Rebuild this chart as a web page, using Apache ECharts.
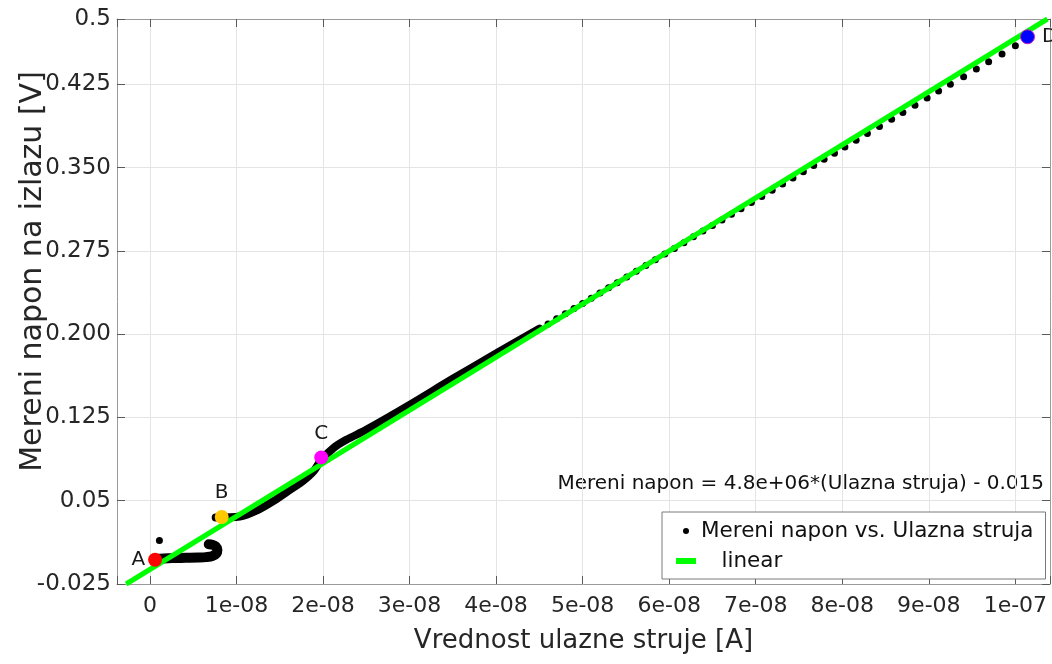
<!DOCTYPE html>
<html>
<head>
<meta charset="utf-8">
<script src="https://cdn.jsdelivr.net/npm/echarts@6/dist/echarts.min.js"></script>
<style>
html,body{margin:0;padding:0;background:#fff;}
#chart{width:1052px;height:664px;}
</style>
</head>
<body>
<div id="chart"></div>
<script>
// ---- tick labels ----
const xTickLabels = ['0','1e-08','2e-08','3e-08','4e-08','5e-08','6e-08','7e-08','8e-08','9e-08','1e-07'];
const yTickLabels = ['-0.025','0.05','0.125','0.200','0.275','0.350','0.425','0.5'];

// ---- measured data (x in nA, y in V) ----
// low cluster near point A (dense band)
const lowX = [0.6, 1.6, 2.6, 3.6, 4.6, 5.6, 6.5, 7.2, 7.7, 7.8, 7.6, 7.2, 6.8];
const lowY = [-0.0024, -0.0020, -0.0017, -0.0015, -0.0014, -0.0012, -0.0008, 0.0001, 0.0027, 0.0059, 0.0088, 0.0104, 0.0107];
// isolated outlier
const outlierX = [1.1];
const outlierY = [0.0142];
// dense band from B to ~45 nA
const denseX = [7.6, 10.4, 12.3, 14.3, 16.2, 17.7, 18.9, 19.8, 21.2, 22.7, 25.0, 30.0, 35.0, 40.0, 45.0];
const denseY = [0.0349, 0.0358, 0.0410, 0.0499, 0.0599, 0.0679, 0.0764, 0.0867, 0.0974, 0.1048, 0.1139, 0.1363, 0.1598, 0.1825, 0.2050];
// separated dots above ~45 nA
const sparseX = [46, 47, 48, 49, 50, 51, 52, 53, 54, 55.1, 56.2, 57.3, 58.4, 59.5, 60.6, 61.7, 62.8, 63.9, 65.0, 66.1, 67.2, 68.3, 69.5, 70.7, 71.9, 73.1, 74.3, 75.5, 76.7, 77.9, 79.1, 80.3, 81.6, 82.9, 84.3, 85.7, 87.0, 88.4, 89.8, 91.13, 92.49, 94.02, 95.49, 96.91, 98.46, 100.0, 101.47];
const sparseY = [0.2092, 0.2138, 0.2184, 0.2230, 0.2276, 0.2323, 0.2370, 0.2417, 0.2463, 0.2515, 0.2567, 0.2618, 0.2670, 0.2721, 0.2772, 0.2824, 0.2876, 0.2928, 0.2978, 0.3029, 0.3079, 0.3130, 0.3185, 0.3240, 0.3295, 0.3351, 0.3406, 0.3463, 0.3518, 0.3574, 0.3630, 0.3686, 0.3746, 0.3806, 0.3871, 0.3936, 0.3996, 0.4061, 0.4127, 0.4190, 0.4250, 0.4319, 0.4388, 0.4454, 0.4523, 0.4598, 0.4667];

// linear fit line (end points as drawn)
const linX = [-2.74, 103.7];
const linY = [-0.025, 0.4838];

// highlighted points
const markerNames = ['A', 'B', 'C', 'D'];
const markerX = [0.6, 8.3, 19.8, 101.4];
const markerY = [-0.0031, 0.0353, 0.0890, 0.4678];
const markerColors = ['#ff0000', '#ffc800', '#ff00ff', '#0000ff'];
const markerLabelPos = ['left', 'top', 'top', 'right'];

const fitText = 'Mereni napon = 4.8e+06*(Ulazna struja) - 0.015';
const seriesMeasured = 'Mereni napon vs. Ulazna struja';
const seriesLinear = 'linear';

const zip = (xs, ys) => xs.map((x, i) => [x, ys[i]]);
const FONT = '"DejaVu Sans", sans-serif';

const chart = echarts.init(document.getElementById('chart'), null, {renderer: 'canvas'});

const X_MIN = -3.8, X_MAX = 104.0;
const Y_MIN = -0.025, Y_MAX = 0.4838, Y_INT = 0.075;

const option = {
  backgroundColor: '#ffffff',
  animation: false,
  textStyle: {fontFamily: FONT},
  grid: {left: 117, right: 2, top: 19, bottom: 80, show: false, containLabel: false, outerBoundsMode: 'none'},
  legend: {
    show: true,
    orient: 'vertical',
    left: 662,
    top: 512,
    padding: [8, 12, 7, 14],
    itemGap: 8,
    itemWidth: 20,
    itemHeight: 6,
    backgroundColor: '#ffffff',
    borderColor: '#7a7a7a',
    borderWidth: 1,
    borderRadius: 0,
    selectedMode: false,
    textStyle: {fontSize: 21.5, color: '#111', fontFamily: FONT},
    formatter: n => n === seriesLinear ? '   ' + n : n,
    data: [
      {name: seriesMeasured, icon: 'circle'},
      {name: seriesLinear, icon: 'rect'}
    ]
  },
  xAxis: [{
    type: 'value',
    position: 'bottom',
    min: X_MIN, max: X_MAX,
    splitNumber: 10,
    name: 'Vrednost ulazne struje [A]',
    nameLocation: 'middle',
    nameGap: 44,
    nameMoveOverlap: false,
    nameTextStyle: {fontSize: 26, color: '#262626', fontFamily: FONT},
    axisLine: {show: true, onZero: false, lineStyle: {color: '#9a9a9a', width: 1}},
    axisTick: {show: true, inside: true, length: 8, lineStyle: {color: '#5a5a5a', width: 1}},
    axisLabel: {
      fontSize: 22, color: '#262626', margin: 11, fontFamily: FONT,
      formatter: v => {
        const i = Math.round(v / 10);
        return (Math.abs(v - i * 10) < 1e-6 && i >= 0 && i < xTickLabels.length) ? xTickLabels[i] : '';
      }
    },
    splitLine: {show: true, lineStyle: {color: '#e4e4e4', width: 1}}
  }, {
    type: 'value',
    position: 'top',
    min: X_MIN, max: X_MAX,
    splitNumber: 10,
    axisLine: {show: true, onZero: false, lineStyle: {color: '#9a9a9a', width: 1}},
    axisTick: {show: true, inside: true, length: 8, lineStyle: {color: '#5a5a5a', width: 1}},
    axisLabel: {show: false},
    splitLine: {show: false}
  }],
  yAxis: [{
    type: 'value',
    position: 'left',
    min: Y_MIN, max: Y_MAX, interval: Y_INT,
    name: 'Mereni napon na izlazu [V]',
    nameLocation: 'middle',
    nameGap: 69,
    nameMoveOverlap: false,
    nameTextStyle: {fontSize: 30, color: '#262626', fontFamily: FONT, padding: [0, 0, 0, 60]},
    axisLine: {show: true, onZero: false, lineStyle: {color: '#9a9a9a', width: 1}},
    axisTick: {show: true, inside: true, length: 8, lineStyle: {color: '#5a5a5a', width: 1}},
    axisLabel: {
      fontSize: 23, color: '#262626', margin: 6, fontFamily: FONT,
      formatter: v => yTickLabels[Math.round((v - Y_MIN) / Y_INT)] || ''
    },
    splitLine: {show: true, lineStyle: {color: '#e4e4e4', width: 1}}
  }, {
    type: 'value',
    position: 'right',
    min: Y_MIN, max: Y_MAX, interval: Y_INT,
    axisLine: {show: true, onZero: false, lineStyle: {color: '#9a9a9a', width: 1}},
    axisTick: {show: true, inside: true, length: 8, lineStyle: {color: '#5a5a5a', width: 1}},
    axisLabel: {show: false},
    splitLine: {show: false}
  }],
  series: [
    {
      name: seriesMeasured, type: 'line', data: zip(lowX, lowY),
      symbol: 'none', smooth: 0.3, z: 2,
      itemStyle: {color: '#000'},
      lineStyle: {color: '#000', width: 10, cap: 'round', join: 'round'}
    },
    {
      name: seriesMeasured, type: 'line', data: zip(denseX, denseY),
      symbol: 'none', smooth: 0.3, z: 2,
      itemStyle: {color: '#000'},
      lineStyle: {color: '#000', width: 8, cap: 'round', join: 'round'}
    },
    {
      name: seriesMeasured, type: 'scatter', data: zip(sparseX, sparseY).concat(zip(outlierX, outlierY)),
      symbol: 'circle', symbolSize: 7, z: 2,
      itemStyle: {color: '#000', opacity: 1}
    },
    {
      name: seriesLinear, type: 'line', data: zip(linX, linY),
      symbol: 'none', z: 3, clip: true,
      itemStyle: {color: '#00ff00'},
      lineStyle: {color: '#00ff00', width: 5}
    },
    {
      name: 'points', type: 'scatter', z: 4,
      symbol: 'circle', symbolSize: 14,
      data: markerNames.map((n, i) => ({
        name: n,
        value: [markerX[i], markerY[i]],
        itemStyle: {color: markerColors[i], opacity: 1,
          borderColor: n === 'D' ? '#c020c0' : markerColors[i], borderWidth: n === 'D' ? 1 : 0},
        label: {show: true, formatter: n, position: markerLabelPos[i],
          distance: (n === 'A') ? 3 : 7, fontSize: 20, color: '#1a1a1a', fontFamily: FONT}
      }))
    }
  ],
  graphic: [{
    type: 'text',
    right: 8,
    top: 474,
    style: {text: fitText, font: '20px ' + FONT, fill: '#111'}
  }]
};

chart.setOption(option);
</script>
</body>
</html>
